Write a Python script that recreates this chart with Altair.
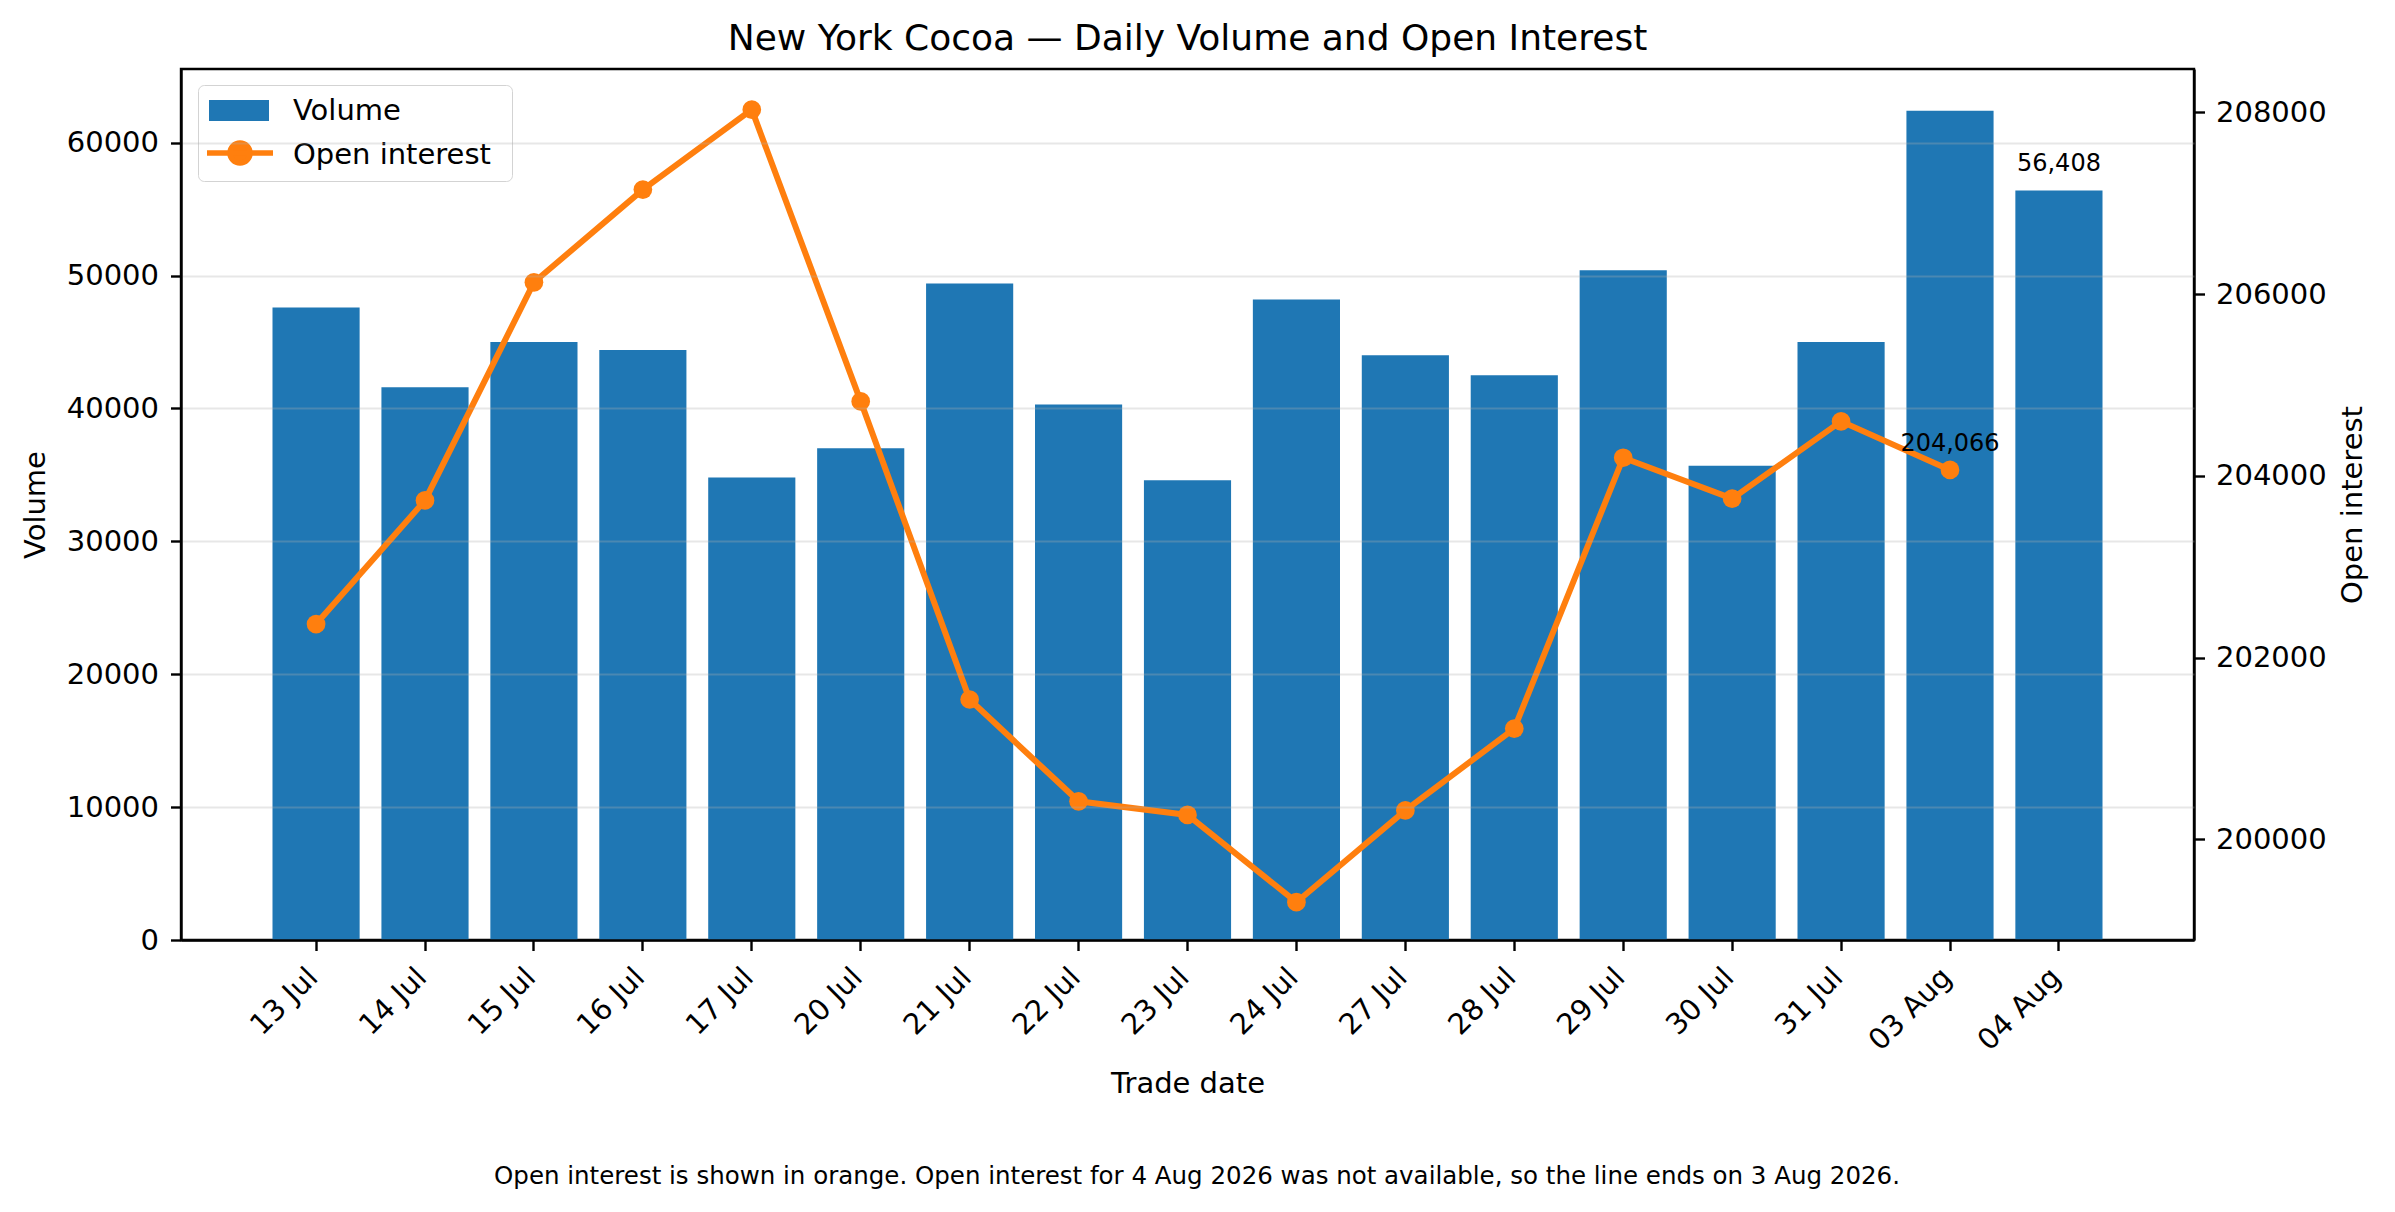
import altair as alt
import pandas as pd

# ---- data ----
dates = ["13 Jul", "14 Jul", "15 Jul", "16 Jul", "17 Jul", "20 Jul", "21 Jul", "22 Jul",
         "23 Jul", "24 Jul", "27 Jul", "28 Jul", "29 Jul", "30 Jul", "31 Jul", "03 Aug", "04 Aug"]
volume = [47600, 41600, 45000, 44400, 34800, 37000, 49400, 40300,
          34600, 48200, 44000, 42500, 50400, 35700, 45000, 62400, 56408]
open_interest = [202370, 203730, 206130, 207150, 208030, 204820, 201540, 200420,
                 200270, 199310, 200320, 201220, 204200, 203750, 204600, 204066, None]

volume_ticks = [0, 10000, 20000, 30000, 40000, 50000, 60000]
oi_ticks = [200000, 202000, 204000, 206000, 208000]

title_text = "New York Cocoa \u2014 Daily Volume and Open Interest"
footnote_text = ("Open interest is shown in orange. Open interest for 4 Aug 2026 was not available, "
                 "so the line ends on 3 Aug 2026.")

BLUE = "#1f77b4"
ORANGE = "#ff7f0e"
FONT = "DejaVu Sans"
W, H = 2013, 871

df = pd.DataFrame({"date": dates, "volume": volume, "oi": open_interest})
df["idx"] = range(len(df))
df["vol_series"] = "Volume"
df["oi_series"] = "Open interest"
oi_df = df.dropna(subset=["oi"]).copy()
last_vol = df.tail(1)
last_oi = oi_df.tail(1)
foot_df = pd.DataFrame({"t": [footnote_text]})

x_enc = alt.X(
    "date:N", sort=dates, title="Trade date",
    scale=alt.Scale(paddingInner=0.2, paddingOuter=0.84),
    axis=alt.Axis(labelAngle=315, labelAlign="right", labelBaseline="top",
                  labelOffset=-13, labelPadding=12, titlePadding=14, zindex=1),
)

vol_scale = alt.Scale(domain=[0, 65550], nice=False, zero=True)
oi_scale = alt.Scale(domain=[198894, 208477], nice=False, zero=False)

# legend symbols: small nominal size (so rows follow the label height), drawn path larger
rect_path = "M-1.45,-1.05H4.55V1.05H-1.45Z"
line_dot_path = ("M-3.3,0H3.3M1,0A1,1 0 1,1 -1,0A1,1 0 1,1 1,0")

bars = alt.Chart(df).mark_bar().encode(
    x=x_enc,
    y=alt.Y("volume:Q", scale=vol_scale,
            axis=alt.Axis(values=volume_ticks, format="d", title="Volume", grid=True,
                          gridColor="#b0b0b0", gridOpacity=0.3, gridWidth=2,
                          labelPadding=12, titlePadding=16, zindex=1)),
    fill=alt.Fill("vol_series:N",
                  scale=alt.Scale(domain=["Volume", "Open interest"], range=[BLUE, "transparent"]),
                  legend=alt.Legend(title=" ", titleOrient="right", titleFontSize=10,
                                    titlePadding=10, orient="none", legendX=17, legendY=16,
                                    symbolType=rect_path, symbolSize=400,
                                    symbolStrokeWidth=0, labelFontSize=29, labelFont=FONT,
                                    labelColor="black", labelOffset=55, labelLimit=600,
                                    rowPadding=14, padding=11, fillColor="white",
                                    strokeColor="#d3d3d3", cornerRadius=6)),
)

bar_label = alt.Chart(last_vol).mark_text(
    baseline="alphabetic", dy=-19, fontSize=24, font=FONT, color="black"
).encode(x=x_enc, y=alt.Y("volume:Q", scale=vol_scale),
         text=alt.Text("volume:Q", format=","))

footnote = alt.Chart(foot_df).mark_text(
    fontSize=24.5, font=FONT, color="black", align="center", baseline="middle"
).encode(x=alt.value(1016), y=alt.value(1108), text="t:N")

left = alt.layer(bars, bar_label, footnote)

line = alt.Chart(oi_df).mark_line(strokeWidth=6).encode(
    x=x_enc,
    y=alt.Y("oi:Q", scale=oi_scale,
            axis=alt.Axis(orient="right", values=oi_ticks, format="d", title="Open interest",
                          grid=False, labelPadding=11, titleAngle=270, titleBaseline="top",
                          titlePadding=12)),
    order=alt.Order("idx:Q"),
    stroke=alt.Stroke("oi_series:N",
                      scale=alt.Scale(domain=["Open interest"], range=[ORANGE]),
                      legend=alt.Legend(title=None, orient="none", legendX=44.5, legendY=69.5,
                                        symbolType=line_dot_path, symbolSize=400,
                                        symbolStrokeWidth=5.5, symbolFillColor=ORANGE,
                                        labelExpr="''", labelFontSize=29, padding=0)),
)

points = alt.Chart(oi_df).mark_circle(size=350, color=ORANGE, opacity=1).encode(
    x=x_enc, y=alt.Y("oi:Q", scale=oi_scale)
)

oi_label = alt.Chart(last_oi).mark_text(
    baseline="alphabetic", dy=-19, fontSize=24, font=FONT, color="black"
).encode(x=x_enc, y=alt.Y("oi:Q", scale=oi_scale),
         text=alt.Text("oi:Q", format=","))

right = alt.layer(line, points, oi_label)

chart = alt.layer(left, right).resolve_scale(
    y="independent", fill="independent", stroke="independent"
).properties(
    width=W, height=H,
    title=alt.TitleParams(title_text, fontSize=36, font=FONT, fontWeight="normal", color="black",
                          anchor="middle", frame="group", baseline="alphabetic", offset=-17),
    autosize=alt.AutoSizeParams(type="none"),
    padding={"left": 173, "top": 61, "right": 180, "bottom": 255},
).configure_view(
    stroke="black", strokeWidth=2.4
).configure_axis(
    labelFont=FONT, titleFont=FONT, labelFontSize=29, titleFontSize=29,
    labelColor="black", titleColor="black", titleFontWeight="normal",
    domainColor="black", domainWidth=2.4, tickColor="black", tickWidth=2.4, tickSize=10.5,
).configure_legend(
    strokeColor="transparent"
)

chart.save("out.html", embed_options={"renderer": "svg", "actions": False})
